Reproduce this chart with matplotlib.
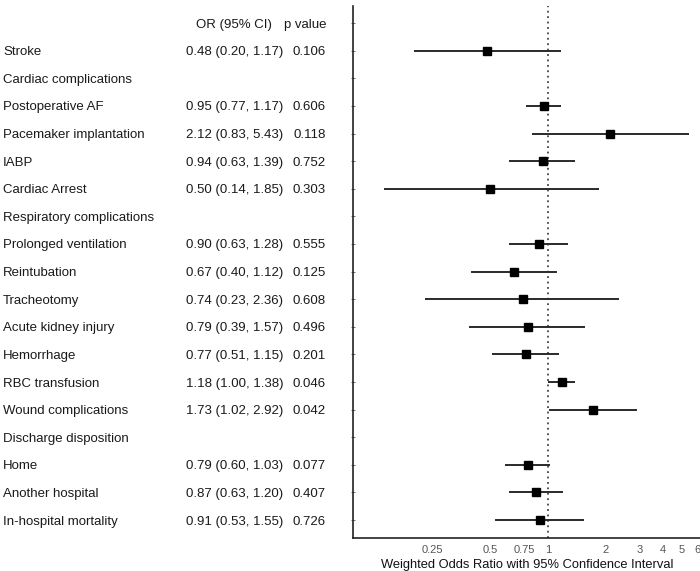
import matplotlib
matplotlib.use("Agg")
import matplotlib.pyplot as plt
import matplotlib.transforms as mtransforms
import numpy as np

plt.rcParams['font.family'] = ['Liberation Sans', 'DejaVu Sans']

labels = ["Stroke", "Cardiac complications", "Postoperative AF", "Pacemaker implantation",
          "IABP", "Cardiac Arrest", "Respiratory complications", "Prolonged ventilation",
          "Reintubation", "Tracheotomy", "Acute kidney injury", "Hemorrhage",
          "RBC transfusion", "Wound complications", "Discharge disposition", "Home",
          "Another hospital", "In-hospital mortality"]
odds = [0.48, None, 0.95, 2.12, 0.94, 0.50, None, 0.90, 0.67, 0.74, 0.79, 0.77,
        1.18, 1.73, None, 0.79, 0.87, 0.91]
lower = [0.20, None, 0.77, 0.83, 0.63, 0.14, None, 0.63, 0.40, 0.23, 0.39, 0.51,
         1.00, 1.02, None, 0.60, 0.63, 0.53]
upper = [1.17, None, 1.17, 5.43, 1.39, 1.85, None, 1.28, 1.12, 2.36, 1.57, 1.15,
         1.38, 2.92, None, 1.03, 1.20, 1.55]
or_text = ["0.48 (0.20, 1.17)", "", "0.95 (0.77, 1.17)", "2.12 (0.83, 5.43)",
           "0.94 (0.63, 1.39)", "0.50 (0.14, 1.85)", "", "0.90 (0.63, 1.28)",
           "0.67 (0.40, 1.12)", "0.74 (0.23, 2.36)", "0.79 (0.39, 1.57)",
           "0.77 (0.51, 1.15)", "1.18 (1.00, 1.38)", "1.73 (1.02, 2.92)", "",
           "0.79 (0.60, 1.03)", "0.87 (0.63, 1.20)", "0.91 (0.53, 1.55)"]
p_text = ["0.106", "", "0.606", "0.118", "0.752", "0.303", "", "0.555", "0.125",
          "0.608", "0.496", "0.201", "0.046", "0.042", "", "0.077", "0.407", "0.726"]
xticks = [0.25, 0.5, 0.75, 1, 2, 3, 4, 5, 6]
xtick_labels = ["0.25", "0.5", "0.75", "1", "2", "3", "4", "5", "6"]

W, H = 700, 571
fig = plt.figure(figsize=(W / 100, H / 100), dpi=100)
ax = fig.add_axes([353 / W, 1 - 538 / H, (W - 353) / W + 0.002, (538 - 6) / H])

n = len(labels)
ys = np.arange(1, n + 1)
for y, o, lo, hi in zip(ys, odds, lower, upper):
    if o is None:
        continue
    ax.plot([lo, hi], [y, y], color='#2a2a2a', lw=1.4, solid_capstyle='butt', zorder=2)
    ax.plot([o], [y], marker='s', ms=6.2, color='black', zorder=3)

ax.axvline(1, color='#444444', lw=1.3, ls=(0, (1, 2)), zorder=1)
ax.set_xscale('log')
ax.set_xlim(0.0965, 6.32)
ax.set_ylim(n + 0.65, -0.62)
ax.set_xticks(xticks)
ax.set_xticklabels(xtick_labels)
ax.xaxis.set_minor_locator(matplotlib.ticker.NullLocator())
ax.tick_params(axis='x', length=0, labelsize=8, labelcolor='#555555', pad=5)
ax.set_yticks(np.arange(0, n + 1))
ax.set_yticklabels([])
ax.tick_params(axis='y', length=3, width=0.6, color='#555555', direction='inout')
ax.set_xlabel("Weighted Odds Ratio with 95% Confidence Interval", fontsize=9.3,
              color='#111111', labelpad=3)
for s in ['top', 'right']:
    ax.spines[s].set_visible(False)
for s in ['left', 'bottom']:
    ax.spines[s].set_linewidth(1.2)
    ax.spines[s].set_color('#222222')

trans = mtransforms.blended_transform_factory(fig.transFigure, ax.transData)
fs = 9.5
tc = '#1a1a1a'
va = 'center_baseline'
ax.text(234 / W, 0, "OR (95% CI)", transform=trans, ha='center', va=va, fontsize=fs, color=tc)
ax.text(326 / W, 0, "p value", transform=trans, ha='right', va=va, fontsize=fs, color=tc)
for y, lab, ot, pt in zip(ys, labels, or_text, p_text):
    ax.text(3 / W, y, lab, transform=trans, ha='left', va=va, fontsize=fs, color=tc)
    if ot:
        ax.text(235 / W, y, ot, transform=trans, ha='center', va=va, fontsize=fs, color=tc)
        ax.text(326 / W, y, pt, transform=trans, ha='right', va=va, fontsize=fs, color=tc)

fig.savefig("out.png", dpi=100)
